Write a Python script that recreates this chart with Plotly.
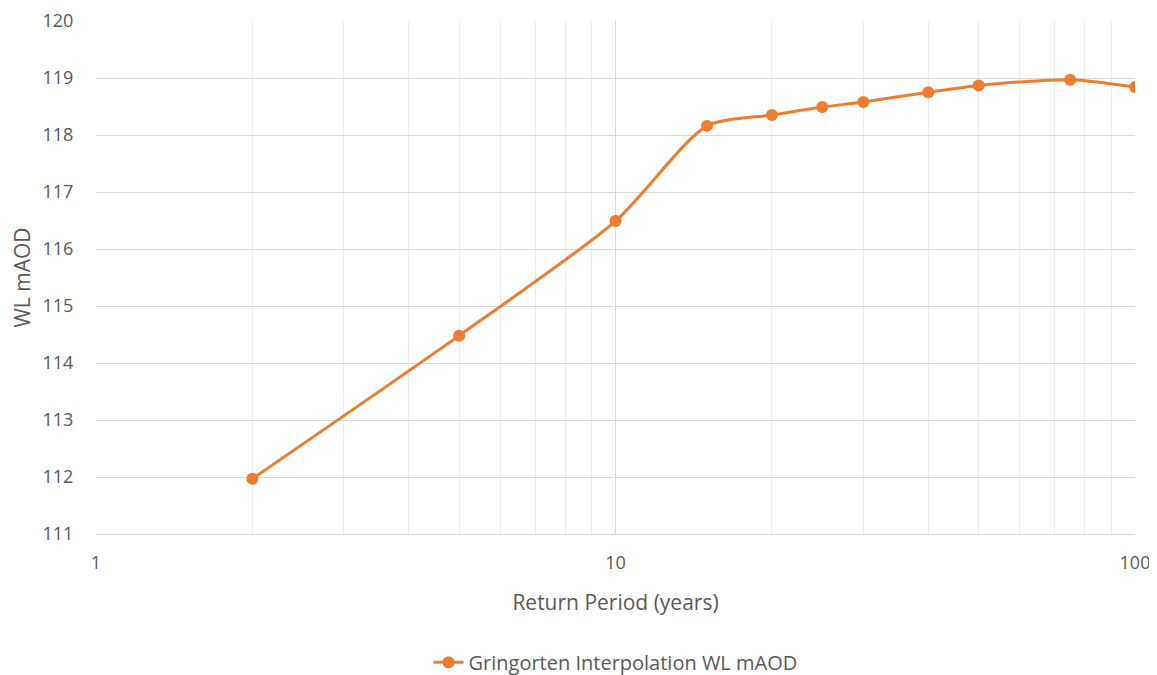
import plotly.graph_objects as go

return_period = [2, 5, 10, 15, 20, 25, 30, 40, 50, 75, 100]
wl_maod = [111.97, 114.48, 116.49, 118.16, 118.35, 118.49, 118.58, 118.75, 118.87, 118.97, 118.84]

x_major = [1, 10, 100]
x_major_text = ["1", "10", "100"]
x_minor = [2, 3, 4, 5, 6, 7, 8, 9, 20, 30, 40, 50, 60, 70, 80, 90]
y_ticks = [111, 112, 113, 114, 115, 116, 117, 118, 119, 120]

series_name = "Gringorten Interpolation WL mAOD"
orange = "#ED7D31"
txt = "#595959"
font_family = "Open Sans, Noto Sans, DejaVu Sans, sans-serif"

fig = go.Figure()
fig.add_trace(go.Scatter(
    x=return_period, y=wl_maod, mode="lines+markers", name=series_name,
    line=dict(color=orange, width=3, shape="spline", smoothing=0.7),
    marker=dict(color=orange, size=12),
))

fig.update_layout(
    width=1149, height=667,
    margin=dict(l=88, r=22, t=13, b=141, autoexpand=False),
    paper_bgcolor="white", plot_bgcolor="white",
    font=dict(family=font_family, size=18, color=txt),
    showlegend=True,
    legend=dict(orientation="h", x=0.5, xanchor="center", y=-0.25, yanchor="middle",
                font=dict(size=20, color=txt)),
    xaxis=dict(
        type="log", range=[0, 2], automargin=False,
        tickvals=x_major, ticktext=x_major_text,
        showgrid=True, gridcolor="#d9d9d9", gridwidth=1,
        minor=dict(tickvals=x_minor, showgrid=True, gridcolor="#ececec", gridwidth=1, ticks=""),
        showline=True, linecolor="#d9d9d9", linewidth=1,
        ticks="outside", ticklen=12, tickcolor="rgba(0,0,0,0)",
        tickfont=dict(size=18, color=txt),
        title=dict(text="Return Period (years)", font=dict(size=21, color=txt), standoff=22),
        zeroline=False,
    ),
    yaxis=dict(
        range=[111, 120], tickvals=y_ticks, automargin=False,
        showgrid=True, gridcolor="#d9d9d9", gridwidth=1,
        showline=False, zeroline=False,
        ticks="outside", ticklen=18, tickcolor="rgba(0,0,0,0)",
        tickfont=dict(size=18, color=txt),
        title=dict(text="WL mAOD", font=dict(size=21, color=txt), standoff=18),
    ),
)

fig.write_html("out.html")
